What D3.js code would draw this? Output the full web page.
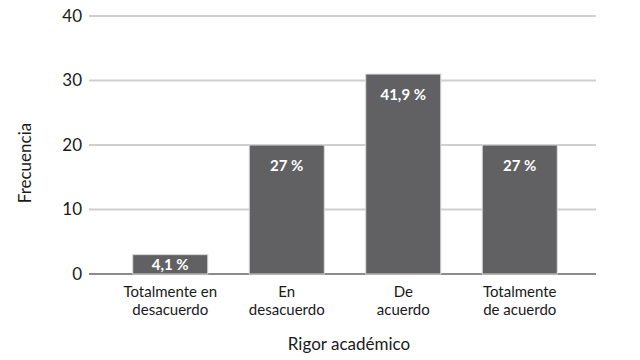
<!DOCTYPE html>
<html>
<head>
<meta charset="utf-8">
<script src="https://cdn.jsdelivr.net/npm/d3@7"></script>
<style>
  body { margin: 0; background: #fff; }
  text { font-family: Lato, sans-serif; fill: #1a1a1a; }
</style>
</head>
<body>
<svg width="640" height="360"></svg>
<script>
// data
var categories = ['Totalmente en desacuerdo', 'En desacuerdo', 'De acuerdo', 'Totalmente de acuerdo'];
var labelLines = [['Totalmente en', 'desacuerdo'], ['En', 'desacuerdo'], ['De', 'acuerdo'], ['Totalmente', 'de acuerdo']];
var frequencies = [3, 20, 31, 20];
var percentLabels = ['4,1 %', '27 %', '41,9 %', '27 %'];
var yTicks = [0, 10, 20, 30, 40];

var svg = d3.select('svg');

var xScale = d3.scaleBand()
    .domain(categories)
    .range([112, 578])
    .paddingInner(0.356)
    .paddingOuter(0.178);

var yScale = d3.scaleLinear()
    .domain([0, 40])
    .range([274, 16]);

// grid lines
svg.append('g')
    .selectAll('line')
    .data(yTicks)
    .join('line')
    .attr('x1', 89)
    .attr('x2', 596)
    .attr('y1', d => yScale(d))
    .attr('y2', d => yScale(d))
    .attr('stroke', d => d === 0 ? '#8c8c8c' : '#cfcfcf')
    .attr('stroke-width', 2);

// y tick labels
svg.append('g')
    .selectAll('text')
    .data(yTicks)
    .join('text')
    .attr('x', 82)
    .attr('y', d => yScale(d))
    .attr('dy', '0.35em')
    .attr('text-anchor', 'end')
    .style('font-size', '17px')
    .text(d => d);

// bars
var bars = svg.append('g')
    .selectAll('g')
    .data(categories)
    .join('g');

bars.append('rect')
    .attr('x', d => xScale(d))
    .attr('y', (d, i) => yScale(frequencies[i]))
    .attr('width', xScale.bandwidth())
    .attr('height', (d, i) => yScale(0) - yScale(frequencies[i]))
    .attr('fill', '#616163')
    .attr('stroke', '#d9d9d9')
    .attr('stroke-width', 1);

bars.append('text')
    .attr('x', d => xScale(d) + xScale.bandwidth() / 2)
    .attr('y', (d, i) => Math.min(yScale(frequencies[i]) + 26, yScale(0) - 4))
    .attr('text-anchor', 'middle')
    .style('font-size', '15px')
    .style('font-weight', 'bold')
    .style('fill', '#fff')
    .text((d, i) => percentLabels[i]);

// category labels, one text per line
var catG = svg.append('g')
    .selectAll('g')
    .data(categories)
    .join('g')
    .attr('transform', d => 'translate(' + (xScale(d) + xScale.bandwidth() / 2) + ',0)');

catG.selectAll('text')
    .data((d, i) => labelLines[i])
    .join('text')
    .attr('y', (d, i) => 297 + i * 18)
    .attr('text-anchor', 'middle')
    .style('font-size', '15px')
    .text(d => d);

// axis titles
svg.append('text')
    .attr('transform', 'translate(31, 163) rotate(-90)')
    .attr('text-anchor', 'middle')
    .style('font-size', '17px')
    .text('Frecuencia');

svg.append('text')
    .attr('x', 349)
    .attr('y', 350)
    .attr('text-anchor', 'middle')
    .style('font-size', '17px')
    .text('Rigor académico');
</script>
</body>
</html>
